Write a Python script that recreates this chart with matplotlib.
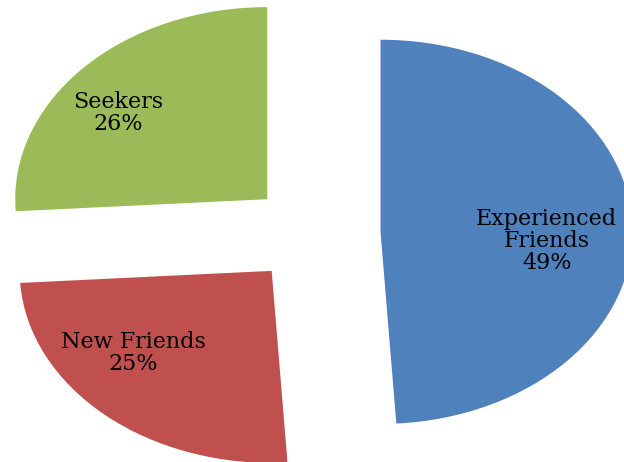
import numpy as np
import matplotlib.pyplot as plt

# segment data
categories = ['Experienced\nFriends', 'New Friends', 'Seekers']
shares = [49, 25, 26]
colors = ['#4F81BD', '#C0504D', '#9BBB59']

# label offsets from each exploded wedge centre (data units)
label_offsets = [(0.66, -0.05), (-0.55, -0.43), (-0.59, 0.45)]

fig = plt.figure(figsize=(6.24, 4.62), dpi=100)
ax = fig.add_axes([0, 0, 1, 1])

wedges, _ = ax.pie(shares, colors=colors, startangle=90, counterclock=False,
                   explode=[0.26] * len(shares), radius=1.0,
                   wedgeprops=dict(linewidth=0))

for w, cat, val, off in zip(wedges, categories, shares, label_offsets):
    cx, cy = w.center
    ax.text(cx + off[0], cy + off[1], f'{cat}\n{val}%', ha='center', va='center',
            family='DejaVu Serif', fontsize=16, linespacing=1.0, color='black')

# stretched (elliptical) look of the original
ax.set_aspect('auto')
ax.set_xlim(-1.25, 1.226)
ax.set_ylim(-1.19, 1.215)
ax.axis('off')

fig.savefig('out.png', dpi=100)
